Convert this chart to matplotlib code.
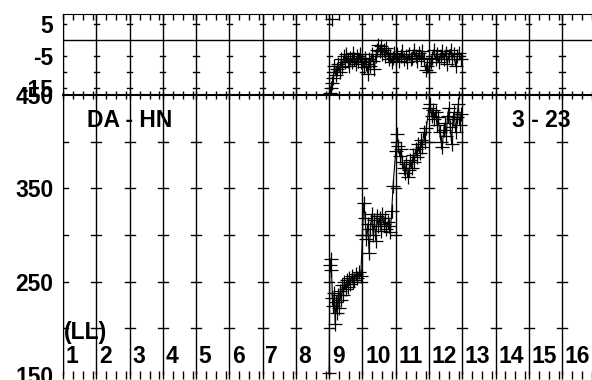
import matplotlib.pyplot as plt

plt.rcParams['font.family'] = ['Liberation Sans', 'DejaVu Sans']
plt.rcParams['font.weight'] = 'bold'

# columns (LL) 1..16
ll_labels = [str(n) for n in range(1, 17)]

# upper panel: isolated high point and main series
top_out_x = [9.10]
top_out_y = [6.5]
top_x = [9.02, 9.05, 9.08, 9.13, 9.16, 9.20, 9.24, 9.28, 9.32, 9.36, 9.40, 9.44, 9.48,
         9.52, 9.56, 9.60, 9.64, 9.68, 9.72, 9.76, 9.80, 9.84, 9.88, 9.92, 9.96, 10.00, 10.04,
         10.08, 10.12, 10.16, 10.20, 10.24, 10.28, 10.32, 10.36, 10.40, 10.44, 10.48, 10.52,
         10.56, 10.60, 10.64, 10.68, 10.72, 10.76, 10.80, 10.84, 10.88, 10.92, 10.96, 11.00,
         11.05, 11.10, 11.15, 11.20, 11.25, 11.30, 11.35, 11.40, 11.45, 11.50, 11.55, 11.60,
         11.65, 11.70, 11.75, 11.80, 11.85, 11.90, 11.95, 12.00, 12.05, 12.10, 12.15, 12.20,
         12.25, 12.30, 12.35, 12.40, 12.45, 12.50, 12.55, 12.60, 12.65, 12.70, 12.75, 12.80,
         12.85, 12.90, 12.95]
top_y = [-16.5, -15, -13.5, -12, -8, -11, -9, -7.5, -10, -6, -8.5, -5, -7,
         -4.5, -6.5, -8, -5.5, -7, -4, -6, -7.5, -5, -6.5, -4.5, -7, -6.5, -8.5,
         -5.5, -7.5, -10.5, -6, -8, -4.5, -6.5, -9, -5, -3, -1.5, -3.5,
         -2, -4.5, -3, -5, -2.5, -4.5, -6, -5, -7, -5.5, -4, -6,
         -4.5, -6.5, -5, -3.5, -6, -5, -7, -4.5, -6, -5.5, -3, -5,
         -6.5, -4, -5.5, -3.5, -6, -9.5, -8, -10, -7, -5.5, -3, -6,
         -4.5, -7, -5, -3.5, -6, -4, -7.5, -5, -3, -6, -4.5, -8,
         -5, -4, -6]

# lower panel series
main_x = [9.00, 9.02, 9.05, 9.07, 9.10, 9.12, 9.15, 9.18, 9.21, 9.24, 9.27, 9.30, 9.33, 9.36,
          9.40, 9.43, 9.46, 9.50, 9.53, 9.57, 9.60, 9.64, 9.68, 9.72, 9.76, 9.80, 9.85, 9.90,
          9.95,
          10.00, 10.04, 10.08, 10.12, 10.16, 10.20, 10.24, 10.28, 10.32, 10.36, 10.40, 10.44,
          10.48, 10.52, 10.56, 10.60, 10.64, 10.68, 10.72, 10.76, 10.80, 10.84, 10.88, 10.92,
          11.00, 11.04, 11.08, 11.12, 11.16, 11.20, 11.24, 11.28, 11.32, 11.36, 11.40, 11.44,
          11.48, 11.52, 11.56, 11.60, 11.64, 11.68, 11.72, 11.76, 11.80, 11.84, 11.88, 11.92,
          12.00, 12.04, 12.08, 12.12, 12.16, 12.20, 12.24, 12.28, 12.32, 12.36, 12.40, 12.44,
          12.48, 12.52, 12.56, 12.60, 12.64, 12.68, 12.72, 12.76, 12.80, 12.84, 12.88, 12.92,
          12.96]
main_y = [152, 268, 274, 262, 232, 224, 238, 205, 228, 216, 236, 222, 240, 230,
          246, 236, 250, 242, 252, 244, 254, 248, 256, 250, 252, 258, 254, 260,
          256,
          300, 334, 318, 296, 312, 281, 306, 322, 300, 316, 294, 320,
          310, 318, 304, 322, 312, 318, 306, 314, 310, 303, 326, 352,
          390, 408, 395, 385, 392, 378, 372, 366, 376, 362, 370, 380,
          372, 386, 378, 392, 384, 398, 388, 402, 394, 410, 400, 415,
          436, 440, 428, 434, 424, 432, 418, 426, 410, 400, 394, 412,
          420, 406, 428, 436, 416, 398, 424, 432, 410, 426, 440, 418,
          430]

fig = plt.figure(figsize=(5.92, 3.80), dpi=100)
x_lo, x_hi = 1, 16.87
fs = 16.5

# ---- lower panel ----
ax = fig.add_axes([63 / 592, 5 / 380, 1 - 63 / 592, 280 / 380])
ax.set_xlim(x_lo, x_hi)
ax.set_ylim(150, 450)
for n in range(1, 17):
    ax.axvline(n, color='k', lw=1.0, zorder=1)
    for yv in [200, 250, 300, 350, 400]:
        ax.plot([n - 0.15, n + 0.15], [yv, yv], color='k', lw=1.0)
ax.plot(main_x, main_y, '-', color='k', lw=0.8, marker='+', ms=10, mew=0.9, zorder=3)
ax.set_yticks([150, 250, 350, 450])
ax.set_yticklabels(['150', '250', '350', '450'], fontsize=fs, fontweight='bold')
ax.tick_params(axis='y', length=0, pad=7)
ax.set_xticks(range(1, 17))
ax.set_xticks([n + f for n in range(1, 17) for f in (0.3, 0.6, 0.9)], minor=True)
ax.tick_params(axis='x', which='both', top=True, bottom=True, direction='inout',
               length=6, width=1, labelbottom=False)
ax.spines['right'].set_visible(False)
ax.spines['bottom'].set_visible(False)
ax.spines['top'].set_linewidth(1.5)
for n, lab in zip(range(1, 17), ll_labels):
    ax.text(n + 0.08, 170, lab, fontsize=fs, fontweight='bold', ha='left', va='center')
ax.text(1.04, 195, '(LL)', fontsize=fs, fontweight='bold', ha='left', va='center')
ax.text(1.72, 423, 'DA - HN', fontsize=fs, fontweight='bold', ha='left', va='center')
ax.text(14.5, 423, '3 - 23', fontsize=fs, fontweight='bold', ha='left', va='center')

# ---- upper panel ----
at = fig.add_axes([63 / 592, 285 / 380, 1 - 63 / 592, 81 / 380])
at.set_xlim(x_lo, x_hi)
at.set_ylim(-17.2, 8.1)
at.axhline(0, color='k', lw=1.0)
for n in range(1, 17):
    at.axvline(n, color='k', lw=1.0, zorder=1)
    for yv in [5, -5, -10, -15]:
        at.plot([n - 0.08, n + 0.08], [yv, yv], color='k', lw=1.0)
at.plot(top_x, top_y, '-', color='k', lw=0.8, marker='+', ms=10, mew=0.9, zorder=3)
at.plot(top_out_x, top_out_y, 'none', color='k', marker='+', ms=10, mew=0.9, zorder=3)
at.set_yticks([5, -5, -15])
at.set_yticklabels(['5', '-5', '-15'], fontsize=fs, fontweight='bold')
at.tick_params(axis='y', length=0, pad=7)
at.set_xticks(range(1, 17))
at.set_xticks([n + f for n in range(1, 17) for f in (0.3, 0.6, 0.9)], minor=True)
at.tick_params(axis='x', which='both', top=True, bottom=False, direction='in',
               length=4, width=1, labelbottom=False)
at.spines['right'].set_visible(False)
at.spines['bottom'].set_visible(False)
at.patch.set_alpha(0)

fig.savefig('out.png', dpi=100)
